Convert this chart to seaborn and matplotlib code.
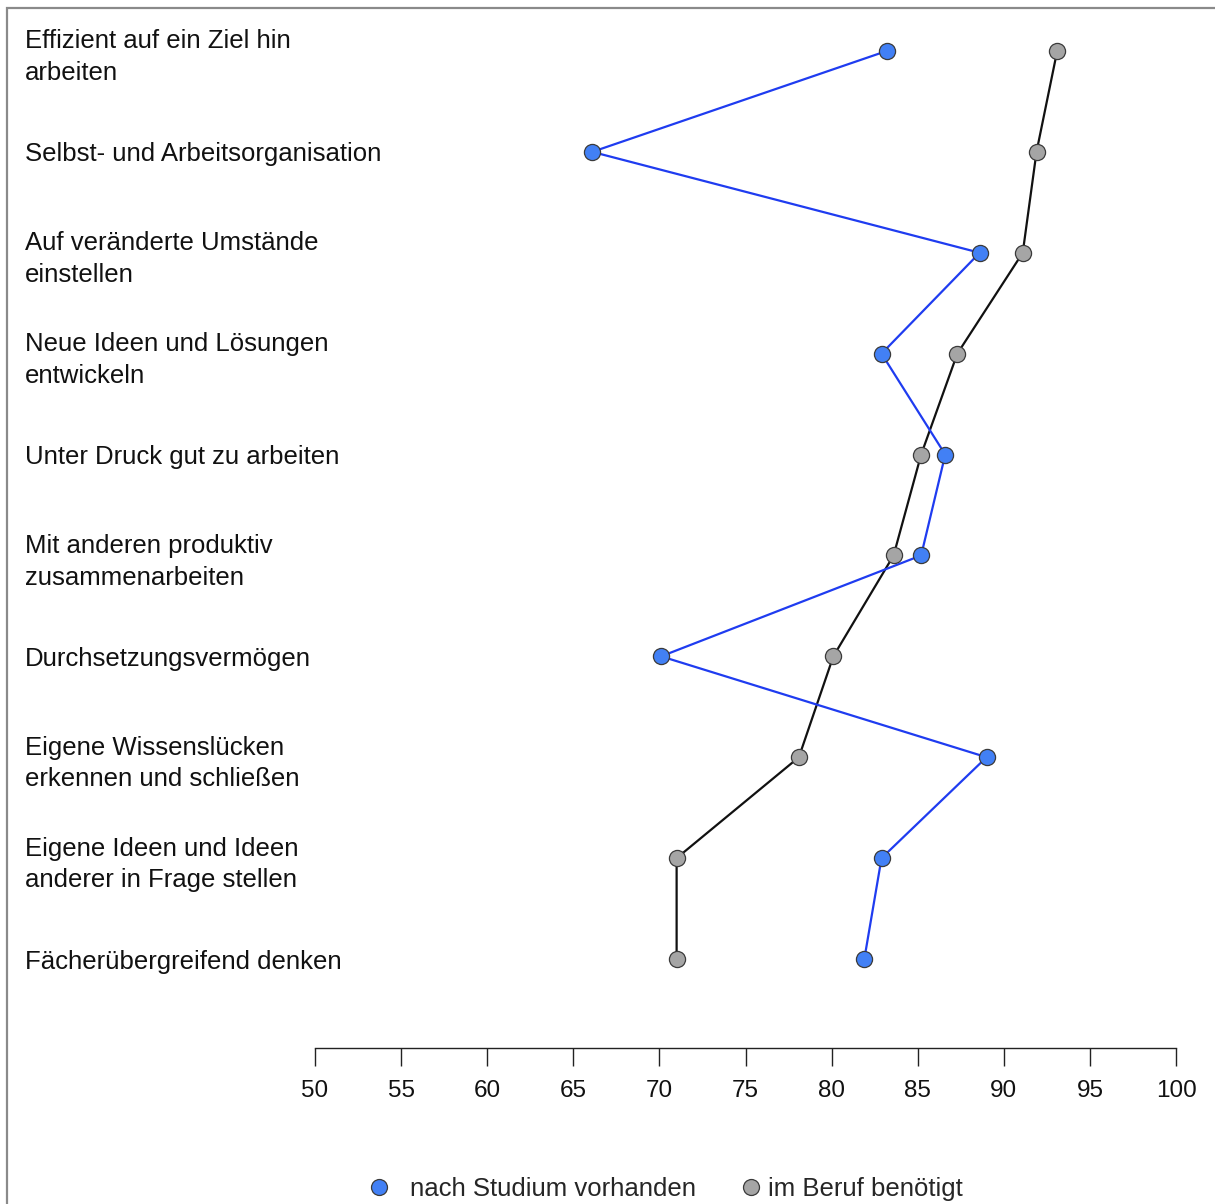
import numpy as np
import pandas as pd
import matplotlib
matplotlib.use("Agg")
import matplotlib.pyplot as plt
from matplotlib.lines import Line2D
from matplotlib.patches import Rectangle
import seaborn as sns

categories = [
    "Effizient auf ein Ziel hin\narbeiten",
    "Selbst- und Arbeitsorganisation",
    "Auf veränderte Umstände\neinstellen",
    "Neue Ideen und Lösungen\nentwickeln",
    "Unter Druck gut zu arbeiten",
    "Mit anderen produktiv\nzusammenarbeiten",
    "Durchsetzungsvermögen",
    "Eigene Wissenslücken\nerkennen und schließen",
    "Eigene Ideen und Ideen\nanderer in Frage stellen",
    "Fächerübergreifend denken",
]
nach_studium = [83.2, 66.1, 88.6, 82.9, 86.6, 85.2, 70.1, 89.0, 82.9, 81.9]
im_beruf = [93.1, 91.9, 91.1, 87.3, 85.2, 83.6, 80.1, 78.1, 71.0, 71.0]
series_names = ["nach Studium vorhanden", "im Beruf benötigt"]
x_ticks = [50, 55, 60, 65, 70, 75, 80, 85, 90, 95, 100]

sns.set_theme(style="white")
plt.rcParams['font.family'] = ['Liberation Sans', 'DejaVu Sans']

W, H = 1215, 1204
fig = plt.figure(figsize=(W / 100, H / 100), dpi=100)

ax_left, ax_right = 315, 1176
ax_top, ax_bottom = 30, 1048
ax = fig.add_axes([ax_left / W, 1 - ax_bottom / H, (ax_right - ax_left) / W, (ax_bottom - ax_top) / H])

pos = np.arange(len(categories))
df = pd.DataFrame({
    "pos": np.concatenate([pos, pos]),
    "value": nach_studium + im_beruf,
    "series": [series_names[0]] * len(pos) + [series_names[1]] * len(pos),
})

line_colors = {series_names[0]: "#1f3cf0", series_names[1]: "#111111"}
fill_colors = {series_names[0]: "#4280f5", series_names[1]: "#a5a5a5"}

for name in [series_names[1], series_names[0]]:
    sub = df[df["series"] == name]
    sns.lineplot(data=sub, x="value", y="pos", sort=False, estimator=None,
                 color=line_colors[name], linewidth=1.6, ax=ax, legend=False, zorder=2)
for name in [series_names[1], series_names[0]]:
    sub = df[df["series"] == name]
    sns.scatterplot(data=sub, x="value", y="pos", color=fill_colors[name], s=135,
                    edgecolor="#3a3a3a", linewidth=0.9, ax=ax, legend=False, zorder=3)

ax.set_xlim(50, 100)
ax.set_ylim(9.882, -0.208)
ax.set_xticks(x_ticks)
ax.set_xticklabels([str(t) for t in x_ticks])
ax.set_yticks(pos)
ax.set_yticklabels(categories)
ax.set_xlabel("")
ax.set_ylabel("")

for s in ["top", "right", "left"]:
    ax.spines[s].set_visible(False)
ax.spines["bottom"].set_color("#222222")
ax.spines["bottom"].set_linewidth(1.0)

ax.tick_params(axis="x", direction="out", length=13, width=1.0, color="#222222",
               labelsize=17.5, pad=10, bottom=True, labelcolor="#111111")
pad_pt = (ax_left - 25) * 0.72
ax.tick_params(axis="y", length=0, pad=pad_pt, labelsize=18.5, labelcolor="#111111")
for lab in ax.get_yticklabels():
    lab.set_horizontalalignment("left")
    lab.set_linespacing(1.4)

h_blue = Line2D([0], [0], marker="o", linestyle="none", markersize=11.5,
                markerfacecolor=fill_colors[series_names[0]], markeredgecolor="#3a3a3a", markeredgewidth=0.9)
h_grey = Line2D([0], [0], marker="o", linestyle="none", markersize=11.5,
                markerfacecolor=fill_colors[series_names[1]], markeredgecolor="#3a3a3a", markeredgewidth=0.9)
leg_y = 1 - 1189 / H
fig.legend([h_blue], [series_names[0]], loc="center left", bbox_to_anchor=(366 / W, leg_y),
           frameon=False, fontsize=18.5, handletextpad=0.7, handlelength=1.0, borderpad=0,
           borderaxespad=0)
fig.legend([h_grey], [series_names[1]], loc="center left", bbox_to_anchor=(738 / W, leg_y),
           frameon=False, fontsize=18.5, handletextpad=0.15, handlelength=1.0, borderpad=0,
           borderaxespad=0)

fig.patches.append(Rectangle((7 / W, -0.01), 1.02, 1 - 8 / H + 0.01, transform=fig.transFigure,
                             fill=False, edgecolor="#8a8a8a", linewidth=1.6, zorder=0))

fig.savefig("out.png", dpi=100)
